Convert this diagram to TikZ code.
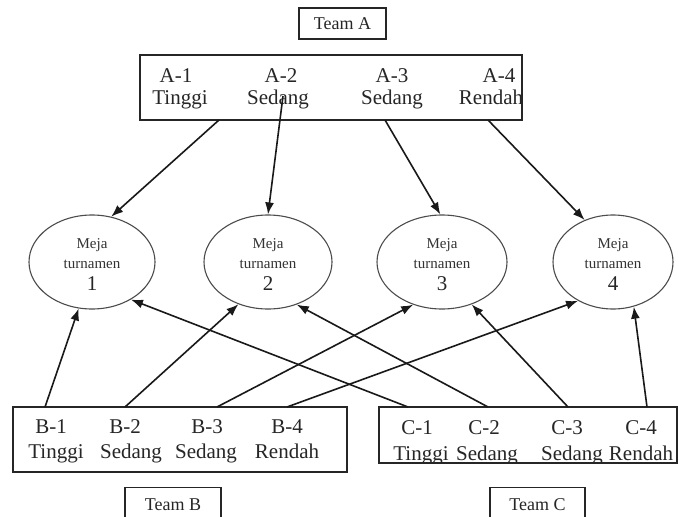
\documentclass[tikz,border=0pt]{standalone}
\usepackage{fontspec}
\setmainfont{Liberation Serif}
\usetikzlibrary{arrows.meta,shapes.geometric}
\begin{document}
\begin{tikzpicture}[x=1pt,y=-1pt,
  box/.style={draw=black!85,line width=1.3pt,inner sep=0pt,fill=none},
  tbl/.style={ellipse,draw=black!70,line width=1.1pt,inner sep=0pt,minimum height=94pt},
  lbl/.style={anchor=base,inner sep=0pt,font=\fontsize{21}{24}\selectfont,text=black!85},
  small/.style={anchor=base,inner sep=0pt,font=\fontsize{15}{18}\selectfont,text=black!80},
  num/.style={anchor=base,inner sep=0pt,font=\fontsize{21}{24}\selectfont,text=black!85},
  team/.style={draw=black!85,line width=1.3pt,inner sep=0pt,font=\fontsize{18}{22}\selectfont,text=black!85},
  arr/.style={draw=black!90,line width=1.6pt,-{Latex[length=12pt,width=9pt]}}]
\useasboundingbox (0,0) rectangle (679,516);
\clip (0,0) rectangle (679,516);
\fill[white] (0,0) rectangle (679,516);

% team labels
\node[team,minimum width=87pt,minimum height=31pt] (teamA) at (342.5,23.5) {Team A};
\node[team,minimum width=96pt,text height=23pt,text depth=20pt,anchor=north] (teamB) at (173,487) {Team B};
\node[team,minimum width=95pt,text height=23pt,text depth=20pt,anchor=north] (teamC) at (537.5,487) {Team C};

% player boxes
\node[box,minimum width=382pt,minimum height=65pt] (abox) at (331,87.5) {};
\node[box,minimum width=334pt,minimum height=65pt] (bbox) at (180,439.5) {};
\node[box,minimum width=298pt,minimum height=56pt] (cbox) at (528,435) {};

% A texts
\node[lbl] (a1t) at (176,83) {A-1};
\node[lbl] (a2t) at (281,83) {A-2};
\node[lbl] (a3t) at (392,83) {A-3};
\node[lbl] (a4t) at (499,83) {A-4};
\node[lbl] (a1b) at (180,104) {Tinggi};
\node[lbl] (a2b) at (278,104) {Sedang};
\node[lbl] (a3b) at (392,104) {Sedang};
\node[lbl] (a4b) at (491,104) {Rendah};

% B texts
\node[lbl] (b1t) at (51,433) {B-1};
\node[lbl] (b2t) at (125,433) {B-2};
\node[lbl] (b3t) at (207,433) {B-3};
\node[lbl] (b4t) at (287,433) {B-4};
\node[lbl] (b1b) at (56,458) {Tinggi};
\node[lbl] (b2b) at (131,458) {Sedang};
\node[lbl] (b3b) at (206,458) {Sedang};
\node[lbl] (b4b) at (287,458) {Rendah};

% C texts
\node[lbl] (c1t) at (417,434) {C-1};
\node[lbl] (c2t) at (484,434) {C-2};
\node[lbl] (c3t) at (567,434) {C-3};
\node[lbl] (c4t) at (641,434) {C-4};
\begin{scope}
\clip (370,440) rectangle (679,463);
\node[lbl] (c1b) at (421,460) {Tinggi};
\node[lbl] (c2b) at (487,460) {Sedang};
\node[lbl] (c3b) at (572,460) {Sedang};
\node[lbl] (c4b) at (641,460) {Rendah};
\end{scope}

% tables
\node[tbl,minimum width=126pt] (e1) at (92,262) {};
\node[tbl,minimum width=128pt] (e2) at (268,262) {};
\node[tbl,minimum width=130pt] (e3) at (442,262) {};
\node[tbl,minimum width=120pt] (e4) at (613,262) {};
\foreach \i/\x in {1/92,2/268,3/442,4/613}{
  \node[small] (m\i) at (\x,248) {Meja};
  \node[small] (t\i) at (\x,268) {turnamen};
  \node[num] (n\i) at (\x,290) {\i};
}

% start points
\coordinate (sA1) at (219,120);
\coordinate (sA2) at (283,96);
\coordinate (sA3) at (385,120);
\coordinate (sA4) at (488,120);
\coordinate (sB1) at (45,407);
\coordinate (sB2) at (125,407);
\coordinate (sB3) at (217,407);
\coordinate (sB4) at (287,407);
\coordinate (sC1) at (408,407);
\coordinate (sC2) at (488,407);
\coordinate (sC3) at (568,407);
\coordinate (sC4) at (647,407);

% arrows
\draw[arr] (sA1) -- (e1.67);
\draw[arr] (sA2) -- (e2.90);
\draw[arr] (sA3) -- (e3.92);
\draw[arr] (sA4) -- (e4.124);
\draw[arr] (sB1) -- (e1.254);
\draw[arr] (sB2) -- (e2.235);
\draw[arr] (sB3) -- (e3.236);
\draw[arr] (sB4) -- (e4.228);
\draw[arr] (sC1) -- (e1.316);
\draw[arr] (sC2) -- (e2.304);
\draw[arr] (sC3) -- (e3.305);
\draw[arr] (sC4) -- (e4.295);
\end{tikzpicture}
\end{document}
